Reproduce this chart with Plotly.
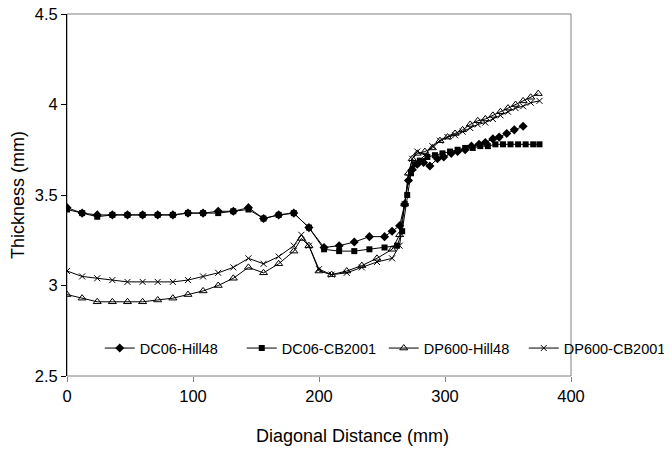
import plotly.graph_objects as go

x_dc_hill = [0, 12, 24, 36, 48, 60, 72, 84, 96, 108, 120, 132, 144, 156, 168, 180, 192, 204, 216, 228, 240, 252, 258, 264, 268, 271, 274, 278, 283, 288, 294, 299, 305, 310, 316, 321, 327, 332, 338, 343, 349, 355, 362]
y_dc_hill = [3.43, 3.40, 3.39, 3.39, 3.39, 3.39, 3.39, 3.39, 3.40, 3.40, 3.41, 3.41, 3.43, 3.37, 3.39, 3.40, 3.32, 3.21, 3.22, 3.24, 3.27, 3.27, 3.30, 3.33, 3.45, 3.58, 3.64, 3.67, 3.68, 3.66, 3.70, 3.71, 3.73, 3.74, 3.75, 3.77, 3.78, 3.79, 3.81, 3.82, 3.84, 3.86, 3.88]

x_dc_cb = [0, 12, 24, 36, 48, 60, 72, 84, 96, 108, 120, 132, 144, 156, 168, 180, 192, 204, 216, 228, 240, 252, 262, 266, 270, 273, 276, 280, 286, 292, 298, 304, 310, 316, 322, 328, 334, 340, 346, 352, 358, 364, 370, 375]
y_dc_cb = [3.42, 3.40, 3.38, 3.39, 3.39, 3.39, 3.39, 3.39, 3.40, 3.40, 3.40, 3.41, 3.42, 3.37, 3.39, 3.40, 3.32, 3.20, 3.19, 3.19, 3.20, 3.21, 3.22, 3.30, 3.50, 3.62, 3.67, 3.69, 3.71, 3.72, 3.73, 3.74, 3.75, 3.76, 3.76, 3.77, 3.77, 3.78, 3.78, 3.78, 3.78, 3.78, 3.78, 3.78]

x_dp_hill = [0, 12, 24, 36, 48, 60, 72, 84, 96, 108, 120, 132, 144, 156, 168, 180, 186, 192, 200, 210, 222, 234, 246, 258, 264, 268, 271, 274, 278, 284, 290, 296, 302, 308, 314, 320, 326, 332, 338, 344, 350, 356, 362, 368, 374]
y_dp_hill = [2.95, 2.93, 2.91, 2.91, 2.91, 2.91, 2.92, 2.93, 2.95, 2.97, 3.00, 3.04, 3.10, 3.07, 3.12, 3.19, 3.26, 3.22, 3.08, 3.06, 3.08, 3.11, 3.15, 3.20, 3.28, 3.45, 3.62, 3.70, 3.73, 3.74, 3.76, 3.80, 3.82, 3.84, 3.86, 3.89, 3.91, 3.92, 3.94, 3.96, 3.98, 4.00, 4.02, 4.04, 4.06]

x_dp_cb = [0, 12, 24, 36, 48, 60, 72, 84, 96, 108, 120, 132, 144, 156, 168, 180, 186, 192, 200, 210, 222, 234, 246, 258, 264, 268, 271, 274, 278, 284, 290, 296, 302, 308, 314, 320, 326, 332, 338, 344, 350, 356, 362, 368, 375]
y_dp_cb = [3.08, 3.05, 3.04, 3.03, 3.02, 3.02, 3.02, 3.02, 3.03, 3.05, 3.07, 3.10, 3.15, 3.12, 3.16, 3.22, 3.28, 3.22, 3.09, 3.06, 3.07, 3.10, 3.13, 3.15, 3.22, 3.45, 3.60, 3.70, 3.74, 3.72, 3.77, 3.80, 3.82, 3.83, 3.85, 3.87, 3.89, 3.90, 3.92, 3.94, 3.96, 3.98, 3.99, 4.01, 4.02]

names = ["DC06-Hill48", "DC06-CB2001", "DP600-Hill48", "DP600-CB2001"]
x_ticks = [0, 100, 200, 300, 400]
y_ticks = [2.5, 3, 3.5, 4, 4.5]
y_tick_text = ["2.5", "3", "3.5", "4", "4.5"]

fig = go.Figure()
fig.add_trace(go.Scatter(x=x_dc_hill, y=y_dc_hill, name=names[0], mode="lines+markers", legend="legend",
                         line=dict(color="black", width=1),
                         marker=dict(symbol="diamond", size=7, color="black")))
fig.add_trace(go.Scatter(x=x_dc_cb, y=y_dc_cb, name=names[1], mode="lines+markers", legend="legend",
                         line=dict(color="black", width=1),
                         marker=dict(symbol="square", size=6, color="black")))
fig.add_trace(go.Scatter(x=x_dp_hill, y=y_dp_hill, name=names[2], mode="lines+markers", legend="legend2",
                         line=dict(color="black", width=1),
                         marker=dict(symbol="triangle-up-open", size=7, color="black", line=dict(width=1))))
fig.add_trace(go.Scatter(x=x_dp_cb, y=y_dp_cb, name=names[3], mode="lines+markers", legend="legend2",
                         line=dict(color="black", width=1),
                         marker=dict(symbol="x-thin-open", size=6, color="black", line=dict(width=1, color="black"))))

fig.add_shape(type="rect", xref="paper", yref="paper", x0=0, y0=0, x1=1, y1=1,
              line=dict(color="#808080", width=1), layer="below")

fig.add_annotation(text="Diagonal Distance (mm)", xref="paper", yref="paper", x=0.567, y=0,
                   yshift=-60, showarrow=False, xanchor="center", yanchor="middle",
                   font=dict(size=18))
fig.add_annotation(text="Thickness (mm)", xref="paper", yref="paper", x=0, y=0.5,
                   xshift=-49, showarrow=False, xanchor="center", yanchor="middle",
                   textangle=-90, font=dict(size=18))

leg_common = dict(orientation="h", y=0.077, xanchor="left", yanchor="middle",
                  bgcolor="rgba(0,0,0,0)", font=dict(size=14.5), itemwidth=30,
                  entrywidthmode="pixels", tracegroupgap=0)

fig.update_layout(
    width=671, height=451,
    margin=dict(l=67, r=100, t=14, b=75, autoexpand=False),
    paper_bgcolor="white", plot_bgcolor="white",
    font=dict(family="Liberation Sans, Arial, sans-serif", size=16.5, color="black"),
    showlegend=True,
    legend=dict(x=0.065, entrywidth=97, **leg_common),
    legend2=dict(x=0.6285, entrywidth=95, **leg_common),
    xaxis=dict(range=[0, 400], tickvals=x_ticks, showgrid=False, zeroline=False, automargin=False,
               showline=False, ticks="outside", tickcolor="#808080", ticklen=5),
    yaxis=dict(range=[2.5, 4.5], tickvals=y_ticks, ticktext=y_tick_text, automargin=False,
               showgrid=False, zeroline=False, showline=True, linecolor="black", linewidth=1,
               ticks="outside", tickcolor="black", ticklen=5, ticklabeloverflow="allow"),
)

fig.write_html("out.html", config={"displayModeBar": False},
               post_script="document.body.style.margin='0';")
